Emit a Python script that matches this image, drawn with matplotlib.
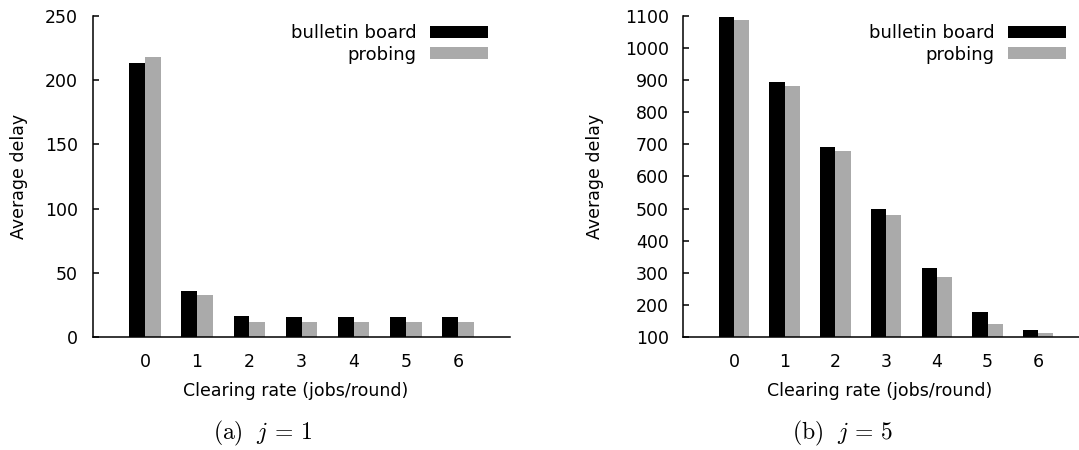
import matplotlib
matplotlib.use("Agg")
import matplotlib.pyplot as plt
import numpy as np

plt.rcParams['font.family'] = ['DejaVu Sans']
plt.rcParams['mathtext.fontset'] = 'cm'

categories = ["0", "1", "2", "3", "4", "5", "6"]
series_names = ["bulletin board", "probing"]

bb_j1 = [213, 36.3, 16.5, 15.8, 15.6, 15.6, 15.6]
pr_j1 = [218, 33, 12.2, 11.7, 11.6, 11.6, 12]

bb_j5 = [1097, 894, 693, 498, 315, 180, 124]
pr_j5 = [1087, 881, 679, 480, 288, 141, 113]

yticks_j1 = [0, 50, 100, 150, 200, 250]
yticks_j5 = [100, 200, 300, 400, 500, 600, 700, 800, 900, 1000, 1100]

colors = ["#000000", "#aaaaaa"]
W, H = 1079, 450
fig = plt.figure(figsize=(W / 100, H / 100), dpi=100)
FS = 12.5

def panel(left, right_px, bb, pr, yticks, ylim, caption, cap_x, ylab_px, leg_px):
    top, bottom = 15.7, 337.3
    x0 = left
    x1 = right_px
    ax = fig.add_axes([x0 / W, 1 - bottom / H, (x1 - x0) / W, (bottom - top) / H])
    x = np.arange(len(categories))
    w = 0.30
    ax.bar(x - w / 2, bb, w, color=colors[0], label=series_names[0], linewidth=0)
    ax.bar(x + w / 2, pr, w, color=colors[1], label=series_names[1], linewidth=0)
    ax.set_xlim(-1, 7)
    ax.set_ylim(*ylim)
    ax.set_xticks(x)
    ax.set_xticklabels(categories)
    ax.set_yticks(yticks)
    ax.tick_params(axis='x', length=0, labelsize=FS, pad=11)
    ax.tick_params(axis='y', direction='in', length=4.5, width=1.1, labelsize=FS, pad=10.5)
    for s in ['top', 'right']:
        ax.spines[s].set_visible(False)
    for s in ['left', 'bottom']:
        ax.spines[s].set_linewidth(1.1)
    axw = x1 - x0
    axh = bottom - top
    ax.set_xlabel("Clearing rate (jobs/round)", fontsize=FS, va='center')
    ax.xaxis.set_label_coords(0.485, (bottom - 391) / axh)
    ax.set_ylabel("Average delay", fontsize=FS, va='center')
    ax.yaxis.set_label_coords((ylab_px - x0) / axw, 0.5)
    ax.legend(loc='upper right', bbox_to_anchor=((leg_px - x0) / axw, 1 - (24 - top) / axh),
              frameon=False, markerfirst=False, handlelength=3.2, handleheight=0.65,
              fontsize=13, borderpad=0, borderaxespad=0, labelspacing=0.2,
              handletextpad=0.75)
    fig.text(cap_x / W, 1 - 433 / H, caption, ha='center', va='center', fontsize=17)
    return ax

ax1 = panel(92.7, 92.7 + 8 * 52.2, bb_j1, pr_j1, yticks_j1, (0, 250),
            r"$\mathrm{(a)}\ \ j\,=\,1$", 263, 19, 488)
ax2 = panel(683.3, 683.3 + 8 * 50.7, bb_j5, pr_j5, yticks_j5, (100, 1100),
            r"$\mathrm{(b)}\ \ j\,=\,5$", 843, 595, 1066)

fig.savefig("out.png", dpi=100)
